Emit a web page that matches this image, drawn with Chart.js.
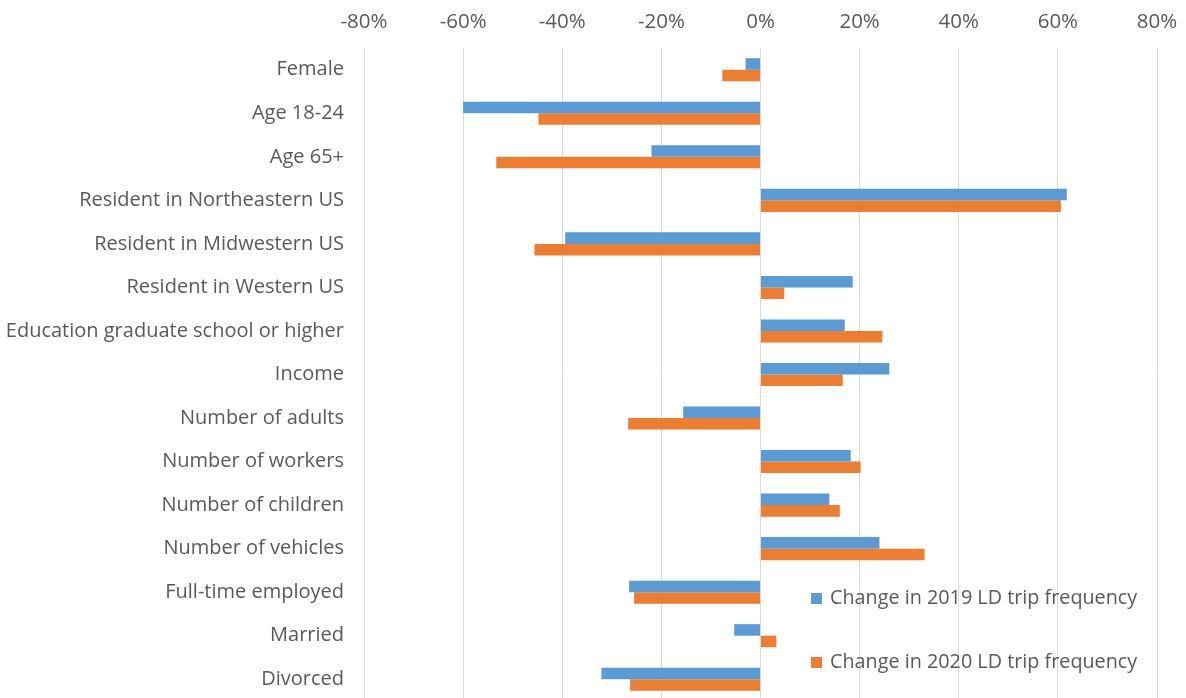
<!DOCTYPE html>
<html>
<head>
<meta charset="utf-8">
<script src="https://cdn.jsdelivr.net/npm/chart.js@4"></script>
<style>
  html, body { margin: 0; padding: 0; background: #fff; overflow: hidden; }
  canvas { display: block; }
</style>
</head>
<body>
<canvas id="tripChart" width="1186" height="701"></canvas>
<script>
// categories (top to bottom)
const categories = [
    "Female", "Age 18-24", "Age 65+", "Resident in Northeastern US",
    "Resident in Midwestern US", "Resident in Western US",
    "Education graduate school or higher", "Income", "Number of adults",
    "Number of workers", "Number of children", "Number of vehicles",
    "Full-time employed", "Married", "Divorced"
];

// change in LD trip frequency, percent
const change2019 = [-3, -60, -22, 61.8, -39.4, 18.6, 17, 26, -15.6, 18.2, 13.9, 24, -26.5, -5.3, -32.1];
const change2020 = [-7.7, -44.8, -53.3, 60.6, -45.6, 4.8, 24.6, 16.6, -26.7, 20.2, 16, 33.1, -25.5, 3.2, -26.3];

const seriesNames = ["Change in 2019 LD trip frequency", "Change in 2020 LD trip frequency"];
const xTicks = [-80, -60, -40, -20, 0, 20, 40, 60, 80];

const FONT = "'Open Sans', sans-serif";
const TEXT = "#595959";

// legend drawn inside the plot, bottom right
const insideLegend = {
    id: "insideLegend",
    afterDraw(chart) {
        const ctx = chart.ctx;
        const items = [
            { y: 598, color: "#5B9BD5", text: seriesNames[0] },
            { y: 662, color: "#ED7D31", text: seriesNames[1] }
        ];
        ctx.save();
        ctx.font = "19.8px " + FONT;
        ctx.textBaseline = "middle";
        items.forEach(it => {
            ctx.fillStyle = it.color;
            ctx.fillRect(811, it.y - 5, 11, 11);
            ctx.fillStyle = TEXT;
            ctx.fillText(it.text, 830, it.y);
        });
        ctx.restore();
    }
};

const data = {
    labels: categories,
    datasets: [
        {
            label: seriesNames[0],
            data: change2019,
            backgroundColor: "#5B9BD5",
        },
        {
            label: seriesNames[1],
            data: change2020,
            backgroundColor: "#ED7D31",
        },
    ],
};

const config = {
    type: "bar",
    data: data,
    options: {
        indexAxis: "y",
        responsive: false,
        animation: false,
        layout: { padding: { top: 0, right: 29, bottom: 0, left: 0 } },
        datasets: {
            bar: { categoryPercentage: 0.53, barPercentage: 1.0 }
        },
        plugins: {
            legend: { display: false },
            tooltip: { enabled: false },
        },
        scales: {
            x: {
                position: "top",
                min: -80,
                max: 80,
                afterBuildTicks: (scale) => { scale.ticks = xTicks.map(v => ({ value: v })); },
                afterFit: (scale) => {
                    scale.height = 48;
                    scale.paddingLeft = 0;
                    scale.paddingRight = 0;
                },
                grid: { color: "#D9D9D9", lineWidth: 1, drawTicks: false },
                border: { display: false },
                ticks: {
                    padding: 14,
                    color: TEXT,
                    font: { family: FONT, size: 20.5 },
                    callback: (v) => v + "%",
                },
            },
            y: {
                afterFit: (scale) => {
                    scale.width = 364;
                    scale.paddingTop = 0;
                    scale.paddingBottom = 0;
                },
                grid: { display: false, drawTicks: false },
                border: { display: false },
                ticks: {
                    padding: 20,
                    color: TEXT,
                    font: { family: FONT, size: 20 },
                },
            },
        },
    },
    plugins: [insideLegend],
};

const ctx = document.getElementById("tripChart").getContext("2d");
new Chart(ctx, config);
</script>
</body>
</html>
